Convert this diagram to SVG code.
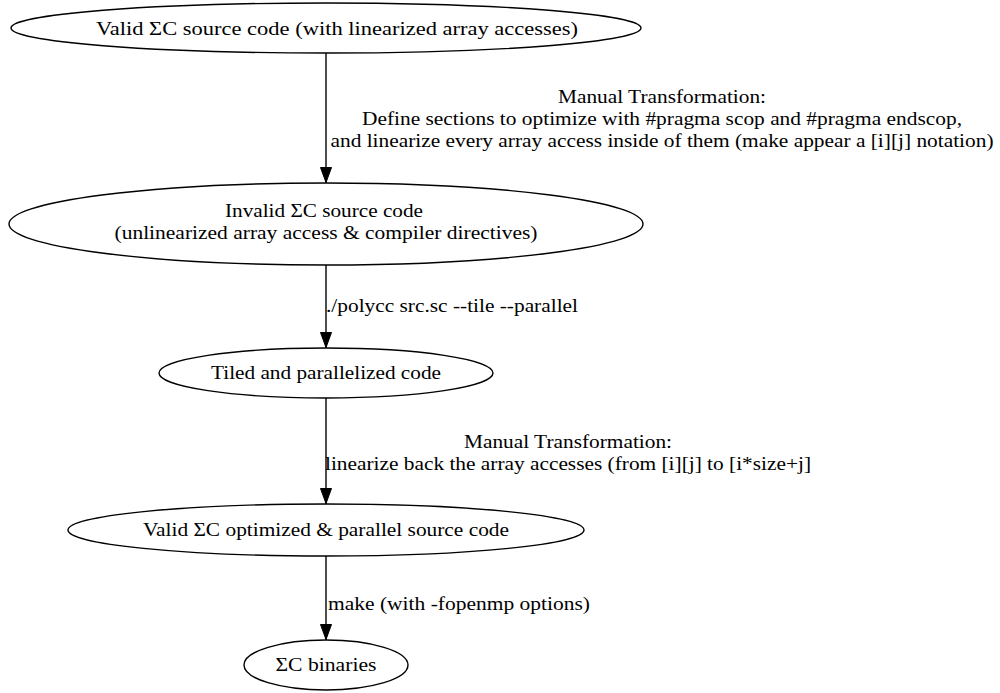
<svg xmlns="http://www.w3.org/2000/svg" width="1000" height="693" viewBox="0 0 1000 693">
  <defs>
    <marker id="arrow" markerWidth="16" markerHeight="12" refX="16" refY="6" orient="auto" markerUnits="userSpaceOnUse">
      <path d="M0.5,0.5 L15.5,6 L0.5,11.5 Z" fill="#000" stroke="#000" stroke-width="1"/>
    </marker>
  </defs>
  <style>
    .node ellipse { fill: none; stroke: #000; stroke-width: 1.4; }
    text { font-family: "Liberation Serif", "Times New Roman", serif; font-size: 19.8px; fill: #000; }
    .node text { text-anchor: middle; }
    .label { text-anchor: middle; }
    .edge { stroke: #000; stroke-width: 1.4; fill: none; marker-end: url(#arrow); }
  </style>
  <rect width="1000" height="693" fill="#fff"/>

  <!-- nodes -->
  <g id="valid_src" class="node">
    <ellipse cx="326" cy="28" rx="315" ry="25"/>
    <text x="337" y="35" textLength="482" lengthAdjust="spacingAndGlyphs">Valid ΣC source code (with linearized array accesses)</text>
  </g>
  <g id="invalid_src" class="node">
    <ellipse cx="326" cy="224" rx="317" ry="41"/>
    <text x="324" y="217" textLength="198" lengthAdjust="spacingAndGlyphs">Invalid ΣC source code</text>
    <text x="326" y="239" textLength="423" lengthAdjust="spacingAndGlyphs">(unlinearized array access &amp; compiler directives)</text>
  </g>
  <g id="tiled" class="node">
    <ellipse cx="326" cy="373" rx="167" ry="25"/>
    <text x="326" y="379" textLength="230" lengthAdjust="spacingAndGlyphs">Tiled and parallelized code</text>
  </g>
  <g id="optimized" class="node">
    <ellipse cx="326" cy="530" rx="258" ry="26"/>
    <text x="326" y="536" textLength="366" lengthAdjust="spacingAndGlyphs">Valid ΣC optimized &amp; parallel source code</text>
  </g>
  <g id="binaries" class="node">
    <ellipse cx="326" cy="665" rx="82" ry="25"/>
    <text x="326" y="671" textLength="101" lengthAdjust="spacingAndGlyphs">ΣC binaries</text>
  </g>

  <!-- connectors -->
  <g id="edges">
    <line class="edge" x1="326" y1="53" x2="326" y2="183"/>
    <line class="edge" x1="326" y1="265" x2="326" y2="348"/>
    <line class="edge" x1="326" y1="398" x2="326" y2="504"/>
    <line class="edge" x1="326" y1="556" x2="326" y2="640"/>

    <text class="label" x="662" y="103" textLength="208" lengthAdjust="spacingAndGlyphs">Manual Transformation:</text>
    <text class="label" x="662" y="125" textLength="600" lengthAdjust="spacingAndGlyphs">Define sections to optimize with #pragma scop and #pragma endscop,</text>
    <text class="label" x="662" y="147" textLength="663" lengthAdjust="spacingAndGlyphs">and linearize every array access inside of them (make appear a [i][j] notation)</text>

    <text class="label" x="452" y="312" textLength="252" lengthAdjust="spacingAndGlyphs">./polycc src.sc --tile --parallel</text>

    <text class="label" x="568" y="448" textLength="208" lengthAdjust="spacingAndGlyphs">Manual Transformation:</text>
    <text class="label" x="568" y="470" textLength="486" lengthAdjust="spacingAndGlyphs">linearize back the array accesses (from [i][j] to [i*size+j]</text>

    <text class="label" x="459" y="610" textLength="262" lengthAdjust="spacingAndGlyphs">make (with -fopenmp options)</text>
  </g>
</svg>
